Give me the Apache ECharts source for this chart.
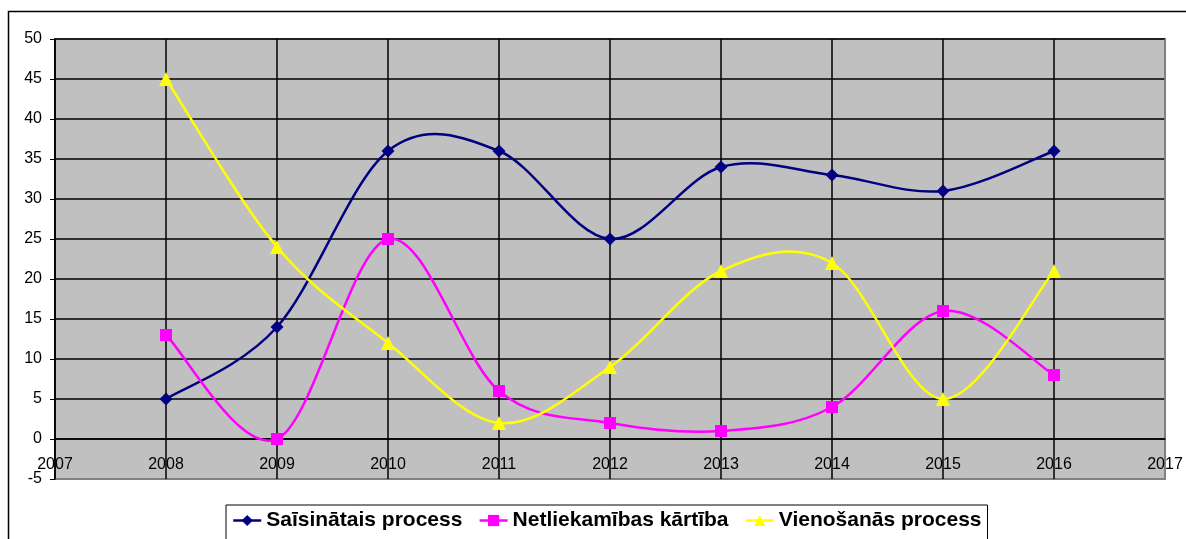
<!DOCTYPE html>
<html>
<head>
    <meta charset="utf-8">
    <title>ECharts</title>
    <script src="https://cdn.jsdelivr.net/npm/echarts@6/dist/echarts.min.js"></script>
    <style>
        html, body { margin: 0; padding: 0; background: #fff; }
        #main { width: 1186px; height: 539px; }
    </style>
</head>
<body>
<div id="main"></div>
<script type="text/javascript">
    // gadi un trīs procesu vērtības
    var years = [2008, 2009, 2010, 2011, 2012, 2013, 2014, 2015, 2016];
    var saisinatais = [5, 14, 36, 36, 25, 34, 33, 31, 36];
    var netliekamibas = [13, 0, 25, 6, 2, 1, 4, 16, 8];
    var vienosanas = [45, 24, 12, 2, 9, 21, 22, 5, 21];
    var names = ['Saīsinātais process', 'Netliekamības kārtība', 'Vienošanās process'];
    var colors = ['#000080', '#FF00FF', '#FFFF00'];

    function pairs(vals) {
        return years.map(function (y, i) { return [y, vals[i]]; });
    }

    var font = '"Liberation Sans", Arial, sans-serif';

    // pirmā horizontālā līnija (-5) pelēka, pārējās melnas
    var yLineColors = ['#808080'];
    for (var i = 0; i < 11; i++) yLineColors.push('#000');
    // vertikālās: 2007 melna, 2017 pelēka
    var xLineColors = [];
    for (var j = 0; j < 10; j++) xLineColors.push('#000');
    xLineColors.push('#808080');

    // Excel stila gludā līkne (Catmull-Rom -> Bezier), punkti caur api.coord
    function curveSeries(name, vals, color) {
        return {
            name: name,
            type: 'custom',
            z: 2,
            silent: true,
            data: pairs(vals),
            renderItem: function (params, api) {
                var k = params.dataIndex;
                var n = vals.length;
                if (k >= n - 1) return null;
                var p = [];
                for (var m = k - 1; m <= k + 2; m++) {
                    var mm = Math.max(0, Math.min(n - 1, m));
                    p.push(api.coord([years[mm], vals[mm]]));
                }
                var c1 = [p[1][0] + (p[2][0] - p[0][0]) / 6, p[1][1] + (p[2][1] - p[0][1]) / 6];
                var c2 = [p[2][0] - (p[3][0] - p[1][0]) / 6, p[2][1] - (p[3][1] - p[1][1]) / 6];
                return {
                    type: 'bezierCurve',
                    shape: {
                        x1: p[1][0], y1: p[1][1],
                        x2: p[2][0], y2: p[2][1],
                        cpx1: c1[0], cpy1: c1[1],
                        cpx2: c2[0], cpy2: c2[1]
                    },
                    style: { stroke: color, lineWidth: 2.5, fill: null }
                };
            }
        };
    }

    function markSeries(name, vals, color, symbol, size) {
        return {
            name: name,
            type: 'line',
            z: 3,
            data: pairs(vals),
            symbol: symbol,
            symbolSize: size,
            showAllSymbol: true,
            itemStyle: { color: color },
            lineStyle: { color: color, width: 2.5, opacity: 0 }
        };
    }

    var myChart = echarts.init(document.getElementById('main'));

    myChart.setOption({
        animation: false,
        backgroundColor: '#fff',
        graphic: [{
            type: 'rect',
            shape: { x: 8.5, y: 11.5, width: 1250, height: 600 },
            style: { fill: 'none', stroke: '#000', lineWidth: 1.5 },
            z: -1
        }],
        grid: {
            left: 55, right: 21, top: 39, bottom: 60,
            show: true,
            backgroundColor: '#C0C0C0',
            borderColor: '#808080',
            borderWidth: 2
        },
        xAxis: {
            type: 'value',
            min: 2007, max: 2017, interval: 1,
            offset: -40,
            axisLine: { onZero: false, lineStyle: { color: '#000', width: 1.5 } },
            axisTick: { show: false },
            axisLabel: {
                color: '#000', fontFamily: font, fontSize: 16, margin: 18,
                formatter: function (v) { return String(v); }
            },
            splitLine: { show: true, lineStyle: { color: xLineColors, width: 1.5 } }
        },
        yAxis: {
            type: 'value',
            min: -5, max: 50, interval: 5,
            axisLine: { show: true, onZero: false, lineStyle: { color: '#000', width: 1.5 } },
            axisTick: { show: true, inside: false, length: 5, lineStyle: { color: '#000' } },
            axisLabel: { color: '#000', fontFamily: font, fontSize: 16, margin: 13 },
            splitLine: { show: true, lineStyle: { color: yLineColors, width: 1.5 } }
        },
        legend: {
            left: 226,
            top: 505,
            padding: [5, 6, 30, 6],
            borderColor: '#000',
            borderWidth: 1,
            itemWidth: 28,
            itemHeight: 14,
            itemGap: 16,
            textStyle: { color: '#000', fontFamily: font, fontWeight: 'bold', fontSize: 21 },
            data: names.map(function (nm, i) {
                return {
                    name: nm,
                    itemStyle: { color: colors[i] },
                    lineStyle: { color: colors[i], width: 2.5, opacity: 1 }
                };
            })
        },
        series: [
            markSeries(names[0], saisinatais, colors[0], 'diamond', 13),
            markSeries(names[1], netliekamibas, colors[1], 'rect', 12),
            markSeries(names[2], vienosanas, colors[2], 'triangle', 14),
            curveSeries(names[0], saisinatais, colors[0]),
            curveSeries(names[1], netliekamibas, colors[1]),
            curveSeries(names[2], vienosanas, colors[2])
        ]
    });
</script>
</body>
</html>
